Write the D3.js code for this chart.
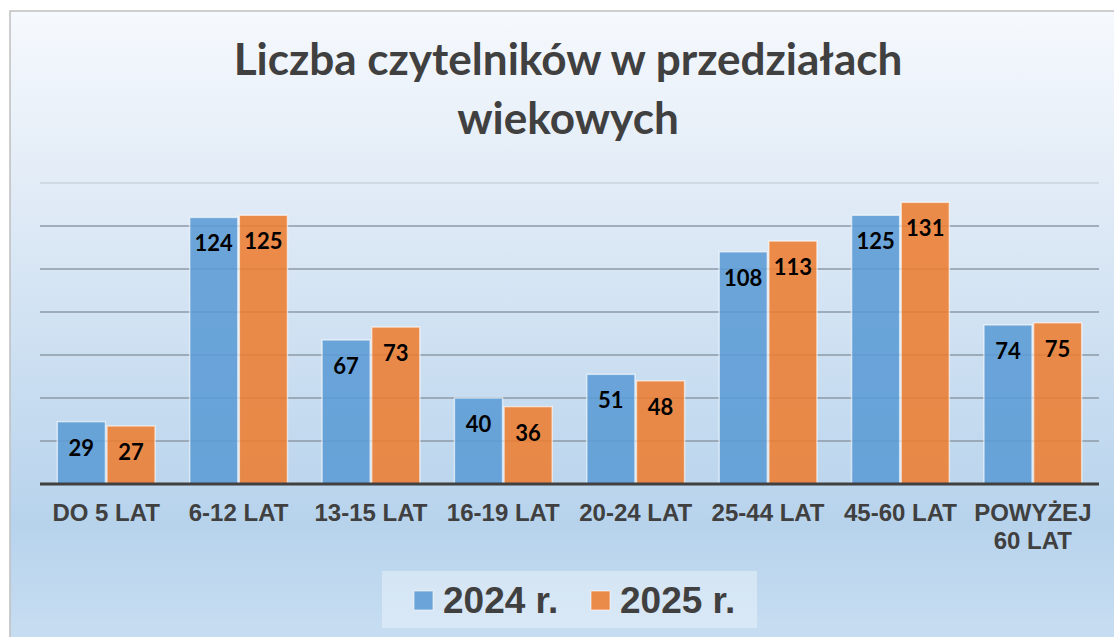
<html>
<head>
<meta charset="utf-8">
<title>Liczba czytelników</title>
<script src="https://d3js.org/d3.v7.min.js"></script>
<style>
  body { margin: 0; background: #fff; }
  svg { display: block; }
</style>
</head>
<body>
<div id="chart"></div>
<script>
const categories = ["DO 5 LAT", "6-12 LAT", "13-15 LAT", "16-19 LAT", "20-24 LAT", "25-44 LAT", "45-60 LAT", "POWYŻEJ\n60 LAT"];
const series = ["2024 r.", "2025 r."];
const values2024 = [29, 124, 67, 40, 51, 108, 125, 74];
const values2025 = [27, 125, 73, 36, 48, 113, 131, 75];
const yTicks = [0, 20, 40, 60, 80, 100, 120, 140];
const titleLines = ["Liczba czytelników w przedziałach", "wiekowych"];

const width = 1114, height = 637;
const colors = ["#5b9bd5", "#ed7d31"];
const margin = {left: 40, right: 15, top: 183, bottom: 153};

const svg = d3.select("#chart").append("svg")
  .attr("width", width)
  .attr("height", height);

const defs = svg.append("defs");
const grad = defs.append("linearGradient")
  .attr("id", "bg").attr("x1", 0).attr("y1", 0).attr("x2", 0).attr("y2", 1);
grad.append("stop").attr("offset", "0%").attr("stop-color", "#f6f9fd");
grad.append("stop").attr("offset", "30%").attr("stop-color", "#dfeaf6");
grad.append("stop").attr("offset", "78%").attr("stop-color", "#b7d3ec");
grad.append("stop").attr("offset", "100%").attr("stop-color", "#cbe0f3");

// chart frame
svg.append("rect")
  .attr("x", 10).attr("y", 11)
  .attr("width", width + 20).attr("height", height + 20)
  .attr("fill", "url(#bg)")
  .attr("stroke", "#bfbfbf")
  .attr("stroke-width", 1.5);

const x0 = d3.scaleBand()
  .domain(categories)
  .range([margin.left, width - margin.right])
  .paddingInner(0.25)
  .paddingOuter(0.125);

const x1 = d3.scaleBand()
  .domain(series)
  .range([0, x0.bandwidth()]);

const y = d3.scaleLinear()
  .domain([0, 140])
  .range([height - margin.bottom, margin.top]);

// gridlines
svg.append("g")
  .selectAll("line")
  .data(yTicks.slice(1))
  .join("line")
  .attr("x1", margin.left).attr("x2", width - margin.right)
  .attr("y1", d => y(d)).attr("y2", d => y(d))
  .attr("stroke", d => d === 140 ? "#c9d4de" : "#8e9aa6")
  .attr("stroke-width", 1.5);

// bars
const data = categories.map((c, i) => ({cat: c, vals: [values2024[i], values2025[i]]}));

const groups = svg.append("g")
  .selectAll("g")
  .data(data)
  .join("g")
  .attr("transform", d => "translate(" + x0(d.cat) + ",0)");

groups.selectAll("rect")
  .data(d => d.vals.map((v, k) => ({s: series[k], v: v, k: k})))
  .join("rect")
  .attr("x", d => x1(d.s) + 0.75)
  .attr("width", x1.bandwidth() - 1.5)
  .attr("y", d => y(d.v))
  .attr("height", d => y(0) - y(d.v))
  .attr("fill", d => colors[d.k])
  .attr("fill-opacity", 0.88)
  .attr("stroke", "#ffffff")
  .attr("stroke-opacity", 0.6)
  .attr("stroke-width", 1.5);

groups.selectAll("text")
  .data(d => d.vals.map((v, k) => ({s: series[k], v: v, k: k})))
  .join("text")
  .attr("x", d => x1(d.s) + x1.bandwidth() / 2)
  .attr("y", d => y(d.v) + 34)
  .attr("text-anchor", "middle")
  .style("font-family", "Lato, 'Open Sans', sans-serif")
  .style("font-weight", "bold")
  .style("font-size", "22px")
  .attr("fill", "#000")
  .text(d => d.v);

// baseline
svg.append("line")
  .attr("x1", margin.left).attr("x2", width - margin.right)
  .attr("y1", y(0)).attr("y2", y(0))
  .attr("stroke", "#404040")
  .attr("stroke-width", 3);

// category labels
const catLabels = svg.append("g")
  .selectAll("text")
  .data(categories)
  .join("text")
  .attr("x", d => x0(d) + x0.bandwidth() / 2)
  .attr("y", 521)
  .attr("text-anchor", "middle")
  .style("font-family", "'Liberation Sans', Arial, sans-serif")
  .style("font-weight", "bold")
  .style("font-size", "24px")
  .attr("fill", "#404040");

catLabels.each(function(d) {
  const t = d3.select(this);
  d.split("\n").forEach((line, i) => {
    t.append("tspan")
      .attr("x", x0(d) + x0.bandwidth() / 2)
      .attr("dy", i === 0 ? 0 : 28)
      .text(line);
  });
});

// title
const title = svg.append("g")
  .selectAll("text")
  .data(titleLines)
  .join("text")
  .attr("x", 568)
  .attr("y", (d, i) => 75 + i * 59)
  .attr("text-anchor", "middle")
  .style("font-family", "Lato, 'Open Sans', sans-serif")
  .style("font-weight", "bold")
  .style("font-size", "40px")
  .attr("fill", "#404040")
  .text(d => d);

// fit first title line to reference width
const w0 = title.nodes()[0].getComputedTextLength();
const fs = 40 * 669 / w0;
title.style("font-size", fs + "px");

// legend
const legend = svg.append("g");
legend.append("rect")
  .attr("x", 382).attr("y", 571)
  .attr("width", 375).attr("height", 57)
  .attr("fill", "#ffffff")
  .attr("fill-opacity", 0.35);

const legendX = [414, 591];
series.forEach((s, i) => {
  legend.append("rect")
    .attr("x", legendX[i]).attr("y", 591)
    .attr("width", 19).attr("height", 19)
    .attr("fill", colors[i])
    .attr("fill-opacity", 0.88)
    .attr("stroke", "#ffffff")
    .attr("stroke-opacity", 0.6)
    .attr("stroke-width", 1);
  legend.append("text")
    .attr("x", legendX[i] + 29).attr("y", 613)
    .style("font-family", "'Liberation Sans', Arial, sans-serif")
    .style("font-weight", "bold")
    .style("font-size", "37px")
    .attr("fill", "#404040")
    .text(s);
});
</script>
</body>
</html>
